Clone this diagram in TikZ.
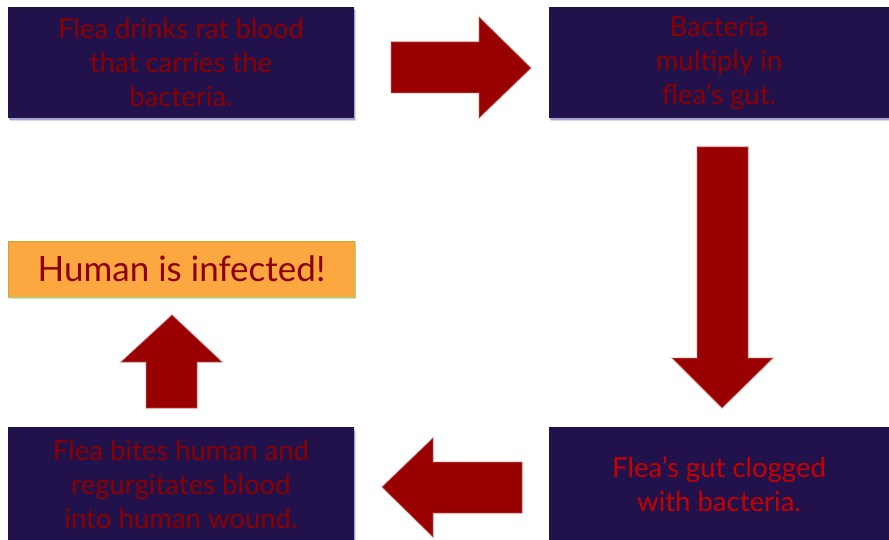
\documentclass[tikz,border=0pt]{standalone}
\usepackage{fontspec}
\setmainfont{Lato}
\usetikzlibrary{shadows}
\definecolor{boxnavy}{RGB}{33,18,75}
\definecolor{txtred}{RGB}{140,0,0}
\definecolor{txtbright}{RGB}{200,0,0}
\definecolor{arrred}{RGB}{153,0,0}
\definecolor{orangebox}{RGB}{252,168,64}
\definecolor{shadowblue}{RGB}{110,100,180}
\tikzset{
  stepbox/.style={rectangle, fill=boxnavy, text=txtred, align=center,
    inner sep=0pt, font=\fontsize{27.5}{34}\selectfont,
    general shadow={fill=shadowblue, opacity=0.25, shadow xshift=1.5pt, shadow yshift=-3.5pt},
    general shadow={fill=shadowblue, opacity=0.45, shadow xshift=0.8pt, shadow yshift=-2pt}},
  resultbox/.style={rectangle, fill=orangebox, draw=green!50!yellow!70!black, draw opacity=0.35,
    line width=0.6pt, text=txtred, inner sep=0pt,
    font=\fontsize{35}{40}\selectfont,
    general shadow={fill=green!40!yellow!60!black, opacity=0.25, shadow xshift=1pt, shadow yshift=-2pt}},
  blockarrow/.style={fill=arrred, draw=arrred!60, draw opacity=0.35, line width=1.5pt, line join=miter}
}
\begin{document}
\begin{tikzpicture}[x=1pt,y=-1pt]
\useasboundingbox (0,0) rectangle (889,540);
\fill[white] (0,0) rectangle (889,540);

\node[stepbox, minimum width=346pt, minimum height=111pt] (s1) at (181,62.5)
  {Flea drinks rat blood\\that carries the\\bacteria.};
\node[stepbox, minimum width=340pt, minimum height=111pt] (s2) at (719,62.5)
  {Bacteria\\multiply in\\flea’s gut.};
\node[stepbox, minimum width=340pt, minimum height=114pt, text=txtbright] (s3) at (719,484)
  {Flea’s gut clogged\\with bacteria.};
\node[stepbox, minimum width=346pt, minimum height=114pt] (s4) at (181,484)
  {Flea bites human and\\regurgitates blood\\into human wound.};
\node[resultbox, minimum width=347pt, minimum height=56pt] (r) at (181.5,269)
  {Human is infected!};

% right arrow (s1 -> s2)
\path[blockarrow] (391,42) -- (479,42) -- (479,17) -- (531,68) -- (479,118) -- (479,93) -- (391,93) -- cycle;
% down arrow (s2 -> s3)
\path[blockarrow] (697,147) -- (748,147) -- (748,358) -- (773,358) -- (722,408) -- (672,358) -- (697,358) -- cycle;
% left arrow (s3 -> s4)
\path[blockarrow] (522,462) -- (522,513) -- (433,513) -- (433,537) -- (382,487) -- (433,438) -- (433,462) -- cycle;
% up arrow (s4 -> r)
\path[blockarrow] (146,408) -- (146,362) -- (121,362) -- (172,315) -- (222,362) -- (197,362) -- (197,408) -- cycle;
\end{tikzpicture}
\end{document}
